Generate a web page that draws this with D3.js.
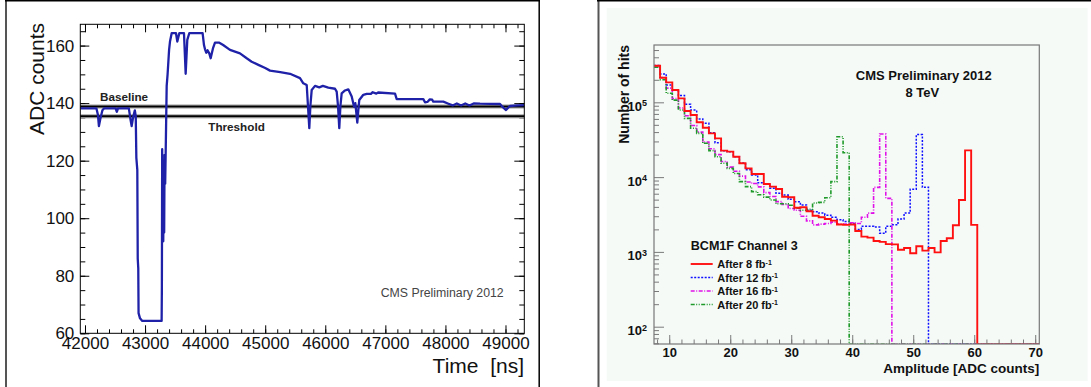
<!DOCTYPE html>
<html><head><meta charset="utf-8">
<script src="https://cdn.jsdelivr.net/npm/d3@7"></script>
<style>
body{margin:0;background:#fff;}
svg{display:block;font-family:"Liberation Sans",Arial,Helvetica,sans-serif;}
</style></head><body>
<svg id="c" width="1091" height="387"></svg>
<script>
// ---------- Left panel data: ADC trace ----------
const timeNs = [41922,42190,42215,42232,42255,42290,42320,42510,42530,42550,
  42730,42760,42777,42800,42830,42845,42855,42871,42878,42887,
  42892,42916,42954,43276,43280,43285,43290,43297,43303,43310,
  43318,43325,43335,43345,43360,43375,43400,43415,43443,43515,
  43537,43570,43648,43676,43703,43736,43958,43981,43998,44020,
  44040,44069,44092,44130,44164,44236,44300,44414,44580,44692,
  44775,44886,45000,45080,45250,45413,45579,45634,45691,45712,
  45734,45752,45774,45829,45900,45960,46050,46162,46190,46212,
  46233,46252,46273,46328,46383,46440,46478,46500,46515,46533,
  46550,46566,46633,46690,46760,46790,46850,46880,47161,47189,
  47632,47660,47700,47740,47780,47798,47965,48050,48120,48190,
  48260,48330,48400,48470,48576,48909,48960,49009,49040,49075,
  49200,49313];
const adcCounts = [138.2,138.2,136,132,134.5,137.5,138.2,138.2,137,138.2,
  138.2,134,132,135,137.5,135.5,121,116.8,86,82.6,
  67,65.2,64.3,64.3,76,124,100,120,92,118,
  95,122,112,125,146,150,158.5,161.4,164.3,164.3,
  161.4,164.3,164.3,150.2,162,164.3,164.3,160.2,158.7,157.5,
  158.4,157.3,155.6,159,161,161,160.2,158.5,157.3,155.6,
  154.4,153.3,152.2,151.3,150.8,150.2,148.7,146.9,146.3,139,
  131.3,139,144.6,146,145.5,146,145.4,145,144,139,
  131.3,139,143.4,144.4,144.8,142.3,138.8,140,137,133.2,
  137.5,141.1,142.9,143.2,143.2,143.8,143.3,143.7,143.3,141.4,
  141.4,140.3,140.4,141.3,141.2,140.5,140.5,139.8,139.2,139.9,
  139.2,139.9,139.2,139.9,139.8,139.7,138.5,137.6,138.3,139,
  139.2,139.3];
const baselineLevel = 138.8;
const thresholdLevel = 135.4;
const timeTicks = [42000,43000,44000,45000,46000,47000,48000,49000];
const adcTicks = [60,80,100,120,140,160];

// ---------- Right panel data: amplitude histograms ----------
const ampBins = [8,9,10,11,12,13,14,15,16,17,18,19,20,21,22,23,24,25,26,27,28,29,30,
  31,32,33,34,35,36,37,38,39,40,41,42,43,44,45,46,47,48,49,50,51,52,53,54,55,56,57,58,59,60];
const hitsAfter8 = [3.08e5,2.13e5,1.85e5,1.46e5,1.13e5,7.66e4,6.77e4,5.41e4,4.57e4,3.85e4,
  3.30e4,2.26e4,2.19e4,1.87e4,1.53e4,1.31e4,1.10e4,1.10e4,8.1e3,7.45e3,
  6.94e3,5.47e3,5.37e3,3.9e3,3.95e3,3.5e3,3.05e3,2.9e3,2.75e3,2.62e3,
  2.32e3,2.3e3,2.33e3,1.9e3,1.6e3,1.55e3,1.4e3,1.36e3,1.27e3,1.26e3,
  1.07e3,1.13e3,960,1.19e3,1.04e3,1.13e3,985,1.4e3,1.52e3,2.27e3,
  4.94e3,2.28e4,2.3e3];
const hitsAfter12 = [3.1e5,2.39e5,1.70e5,1.46e5,1.23e5,9.4e4,7.88e4,5.99e4,5.24e4,3.93e4,
  2.88e4,2.26e4,2.19e4,1.87e4,1.55e4,1.25e4,1.07e4,8.4e3,8.1e3,7.1e3,
  6.07e3,5.76e3,5.05e3,4.7e3,4.24e3,3.6e3,3.44e3,3.3e3,3.1e3,2.9e3,
  2.7e3,2.55e3,2.4e3,2.0e3,2.2e3,2.2e3,2.15e3,1.78e3,2.2e3,2.3e3,
  2.75e3,3.3e3,6.9e3,3.7e4,7.3e3];
const hitsAfter16 = [3.0e5,2.15e5,1.55e5,1.12e5,8.4e4,6.6e4,4.9e4,4.0e4,2.95e4,2.4e4,
  2.0e4,1.62e4,1.36e4,1.2e4,1.03e4,8.6e3,8.2e3,7.4e3,6.2e3,5.5e3,
  4.7e3,4.3e3,3.8e3,3.6e3,3.0e3,2.6e3,2.3e3,2.35e3,2.4e3,2.5e3,
  2.35e3,2.35e3,2.45e3,2.4e3,2.9e3,3.3e3,7.3e3,3.77e4,5.2e3];
const hitsAfter20 = [2.95e5,2.0e5,1.32e5,1.07e5,7.9e4,6.1e4,4.5e4,3.85e4,2.83e4,2.26e4,
  1.87e4,1.53e4,1.31e4,1.12e4,8.7e3,7.45e3,6.4e3,5.8e3,5.4e3,4.94e3,
  4.4e3,4.4e3,4.2e3,3.84e3,3.6e3,3.7e3,4.5e3,4.6e3,5.3e3,8.7e3,
  3.47e4,2.12e4];
const ampTicks = [10,20,30,40,50,60,70];
const hitsTicks = [1e2,1e3,1e4,1e5];
const seriesNames = ["After 8 fb", "After 12 fb", "After 16 fb", "After 20 fb"];

// ---------- drawing ----------
const svg = d3.select("#c");
svg.append("rect").attr("width",1091).attr("height",387).attr("fill","#fff");

// panel frames
svg.append("line").attr("x1",6).attr("x2",6).attr("y1",0).attr("y2",387).attr("stroke","#555").attr("stroke-width",2);
svg.append("line").attr("x1",5).attr("x2",540).attr("y1",0.75).attr("y2",0.75).attr("stroke","#000").attr("stroke-width",1.5);
svg.append("line").attr("x1",539.2).attr("x2",539.2).attr("y1",0).attr("y2",387).attr("stroke","#000").attr("stroke-width",1.5);
svg.append("line").attr("x1",598.5).attr("x2",598.5).attr("y1",0).attr("y2",387).attr("stroke","#555").attr("stroke-width",2);
svg.append("line").attr("x1",597).attr("x2",1091).attr("y1",0.75).attr("y2",0.75).attr("stroke","#000").attr("stroke-width",1.5);
svg.append("rect").attr("x",606.7).attr("y",8).attr("width",481).attr("height",373).attr("fill","#f5faf7");

// ===== LEFT PANEL =====
const xL = d3.scaleLinear().domain([41922, 49313]).range([80.3, 524.3]);
const yL = d3.scaleLinear().domain([60, 167.4]).range([333.3, 24.3]);
const L = svg.append("g");
const fontL = "'Liberation Sans',Arial,Helvetica,sans-serif";

function styleAxis(g, color, size, weight) {
  g.select(".domain").remove();
  g.attr("font-family", null).attr("font-size", null);
  g.selectAll(".tick line").attr("stroke", color);
  g.selectAll(".tick text").attr("fill", "#111").attr("font-size", size).attr("font-weight", weight || "normal");
}

L.append("clipPath").attr("id","clipL").append("rect")
  .attr("x",xL.range()[0]).attr("y",yL.range()[1])
  .attr("width",xL.range()[1]-xL.range()[0]).attr("height",yL.range()[0]-yL.range()[1]);

// axes (ticks inward, all four sides)
L.append("g").attr("transform",`translate(0,${yL.range()[0]})`)
  .call(d3.axisBottom(xL).tickValues(timeTicks).tickSize(-8).tickPadding(4).tickFormat(d3.format("d")))
  .call(g=>styleAxis(g,"#000","17px"));
L.append("g").attr("transform",`translate(0,${yL.range()[0]})`)
  .call(d3.axisBottom(xL).ticks(40).tickSize(-4).tickFormat(""))
  .call(g=>styleAxis(g,"#000","17px"));
L.append("g").attr("transform",`translate(0,${yL.range()[1]})`)
  .call(d3.axisTop(xL).tickValues(timeTicks).tickSize(-8).tickFormat(""))
  .call(g=>styleAxis(g,"#000","17px"));
L.append("g").attr("transform",`translate(0,${yL.range()[1]})`)
  .call(d3.axisTop(xL).ticks(40).tickSize(-4).tickFormat(""))
  .call(g=>styleAxis(g,"#000","17px"));
L.append("g").attr("transform",`translate(${xL.range()[0]},0)`)
  .call(d3.axisLeft(yL).tickValues(adcTicks).tickSize(-9).tickPadding(6))
  .call(g=>styleAxis(g,"#000","17px"));
L.append("g").attr("transform",`translate(${xL.range()[0]},0)`)
  .call(d3.axisLeft(yL).ticks(20).tickSize(-5).tickFormat(""))
  .call(g=>styleAxis(g,"#000","17px"));
L.append("g").attr("transform",`translate(${xL.range()[1]},0)`)
  .call(d3.axisRight(yL).tickValues(adcTicks).tickSize(-10).tickFormat(""))
  .call(g=>styleAxis(g,"#000","17px"));
L.append("g").attr("transform",`translate(${xL.range()[1]},0)`)
  .call(d3.axisRight(yL).ticks(20).tickSize(-5).tickFormat(""))
  .call(g=>styleAxis(g,"#000","17px"));

// baseline / threshold lines
[baselineLevel, thresholdLevel].forEach(v=>{
  L.append("line").attr("x1",xL.range()[0]).attr("x2",xL.range()[1]).attr("y1",yL(v)).attr("y2",yL(v))
    .attr("stroke","#bbb").attr("stroke-width",4.5);
  L.append("line").attr("x1",xL.range()[0]).attr("x2",xL.range()[1]).attr("y1",yL(v)).attr("y2",yL(v))
    .attr("stroke","#000").attr("stroke-width",2);
});

// trace
const traceLine = d3.line().x((d,i)=>xL(timeNs[i])).y((d,i)=>yL(adcCounts[i]));
L.append("path").attr("clip-path","url(#clipL)").attr("d",traceLine(timeNs))
  .attr("fill","none").attr("stroke","#1f22a8").attr("stroke-width",2.3).attr("stroke-linejoin","round");

// frame
L.append("rect").attr("x",xL.range()[0]).attr("y",yL.range()[1])
  .attr("width",xL.range()[1]-xL.range()[0]).attr("height",yL.range()[0]-yL.range()[1])
  .attr("fill","none").attr("stroke","#000").attr("stroke-width",1);

// texts
L.append("text").attr("transform","translate(43.5,23) rotate(-90)").attr("text-anchor","end")
  .attr("font-size","21px").attr("fill","#111").text("ADC counts");
L.append("text").attr("x",524).attr("y",372.5).attr("text-anchor","end").attr("font-size","21px")
  .attr("fill","#111").style("white-space","pre").text("Time  [ns]");
L.append("text").attr("x",100).attr("y",101).attr("font-size","11.7px").attr("font-weight","bold").attr("fill","#222").text("Baseline");
L.append("text").attr("x",208.3).attr("y",131).attr("font-size","11.7px").attr("font-weight","bold").attr("fill","#222").text("Threshold");
L.append("text").attr("x",380.7).attr("y",296.7).attr("font-size","12.3px").attr("fill","#444").text("CMS Preliminary 2012");

// ===== RIGHT PANEL =====
const xR = d3.scaleLinear().domain([7.5, 70.67]).range([654, 1039.3]);
const yR = d3.scaleLog().domain([58.7, 5.84e5]).range([344, 45]);
const R = svg.append("g");
R.append("rect").attr("x",xR.range()[0]).attr("y",yR.range()[1])
  .attr("width",xR.range()[1]-xR.range()[0]).attr("height",yR.range()[0]-yR.range()[1])
  .attr("fill","#f5faf7");
R.append("clipPath").attr("id","clipR").append("rect")
  .attr("x",xR.range()[0]).attr("y",yR.range()[1])
  .attr("width",xR.range()[1]-xR.range()[0]).attr("height",yR.range()[0]-yR.range()[1]);

const axCol = "#7a7a7a";
R.append("g").attr("transform",`translate(0,${yR.range()[0]})`)
  .call(d3.axisBottom(xR).tickValues(ampTicks).tickSize(-9).tickPadding(4).tickFormat(d3.format("d")))
  .call(g=>styleAxis(g,axCol,"13px","bold"));
R.append("g").attr("transform",`translate(0,${yR.range()[0]})`)
  .call(d3.axisBottom(xR).ticks(30).tickSize(-4.5).tickFormat(""))
  .call(g=>styleAxis(g,axCol,"13px"));
R.append("g").attr("transform",`translate(${xR.range()[0]},0)`)
  .call(d3.axisLeft(yR).tickValues(hitsTicks).tickSize(-10).tickPadding(7))
  .call(g=>styleAxis(g,axCol,"13px","bold"))
  .call(g=>g.selectAll(".tick text").each(function(d){
     const t = d3.select(this); t.text(null).attr("dy","0.62em");
     t.append("tspan").text("10");
     t.append("tspan").attr("dy","-0.5em").attr("font-size","9px").text(Math.round(Math.log10(d)));
  }));
R.append("g").attr("transform",`translate(${xR.range()[0]},0)`)
  .call(d3.axisLeft(yR).tickValues(yR.ticks().filter(v=>hitsTicks.indexOf(v)<0)).tickSize(-5).tickFormat(""))
  .call(g=>styleAxis(g,axCol,"13px"));

// histograms
const floorV = yR.domain()[0];
function histPoints(vals) {
  const pts = vals.map((v,i)=>[ampBins[i]-0.5, v]);
  const last = ampBins[vals.length-1];
  pts.push([last+0.5, floorV*0.99]);
  pts.push([xR.domain()[1], floorV*0.99]);
  return pts;
}
const stepLine = d3.line().curve(d3.curveStepAfter).x(d=>xR(d[0])).y(d=>yR(Math.max(d[1],floorV*0.99)));
const series = [
  {vals: hitsAfter12, color:"#1010ff", dash:"2,1.5", w:1.5},
  {vals: hitsAfter16, color:"#e010e8", dash:"4,1.5,1,1.5", w:1.6},
  {vals: hitsAfter20, color:"#1f9a2a", dash:"4,1.5,1,1.5,1,1.5", w:1.6},
  {vals: hitsAfter8, color:"#ff1010", dash:null, w:1.9}
];
series.forEach(s=>{
  const p = R.append("path").attr("clip-path","url(#clipR)").attr("d",stepLine(histPoints(s.vals)))
    .attr("fill","none").attr("stroke",s.color).attr("stroke-width",s.w);
  if (s.dash) p.attr("stroke-dasharray",s.dash);
});

// frame
R.append("rect").attr("x",xR.range()[0]).attr("y",yR.range()[1])
  .attr("width",xR.range()[1]-xR.range()[0]).attr("height",yR.range()[0]-yR.range()[1])
  .attr("fill","none").attr("stroke","#777").attr("stroke-width",1.2);

// texts
R.append("text").attr("transform","translate(629,45) rotate(-90)").attr("text-anchor","end")
  .attr("font-size","14px").attr("font-weight","bold").attr("fill","#111").text("Number of hits");
R.append("text").attr("x",1039.3).attr("y",372.5).attr("text-anchor","end")
  .attr("font-size","13.5px").attr("font-weight","bold").attr("fill","#111").text("Amplitude [ADC counts]");
R.append("text").attr("x",923.8).attr("y",80.4).attr("text-anchor","middle")
  .attr("font-size","13px").attr("font-weight","bold").attr("fill","#111").text("CMS Preliminary 2012");
R.append("text").attr("x",922.3).attr("y",97).attr("text-anchor","middle")
  .attr("font-size","13px").attr("font-weight","bold").attr("fill","#111").text("8 TeV");

// legend
R.append("text").attr("x",690.7).attr("y",250).attr("font-size","12.6px").attr("font-weight","bold")
  .attr("fill","#111").text("BCM1F Channel 3");
const legendOrder = [3,0,1,2];
const rowY = [264, 277.5, 291, 304.5];
legendOrder.forEach((si,i)=>{
  const s = series[si];
  const ln = R.append("line").attr("x1",690.7).attr("x2",712.7).attr("y1",rowY[i]).attr("y2",rowY[i])
    .attr("stroke",s.color).attr("stroke-width",s.w);
  if (s.dash) ln.attr("stroke-dasharray",s.dash);
  const t = R.append("text").attr("x",717.3).attr("y",rowY[i]+4).attr("font-size","11px")
    .attr("font-weight","bold").attr("fill","#111");
  t.append("tspan").text(seriesNames[i]);
  t.append("tspan").attr("dy","-0.45em").attr("font-size","7px").text("-1");
});
</script>
</body></html>
